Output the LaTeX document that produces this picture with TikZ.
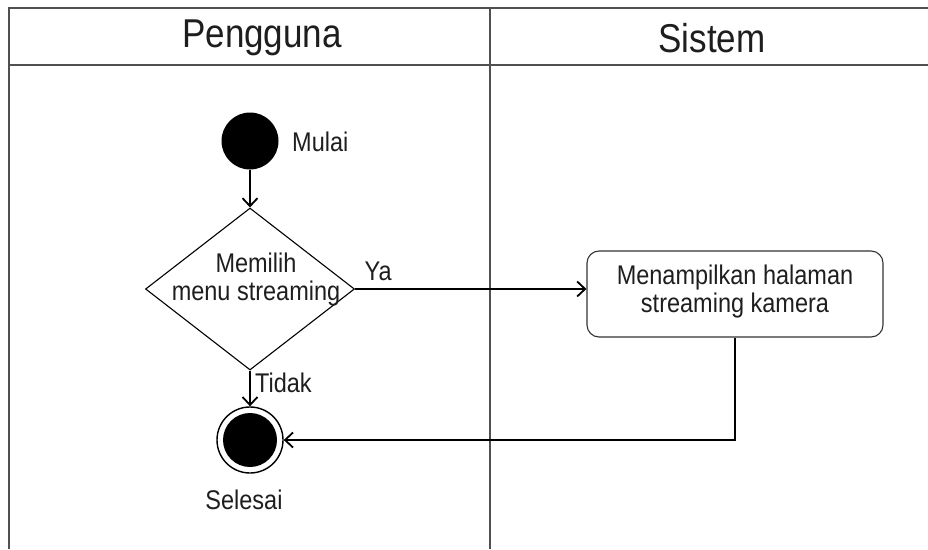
\documentclass[tikz,border=0pt]{standalone}
\usepackage{fontspec}
\setmainfont{Liberation Sans}
\usetikzlibrary{shapes.geometric,arrows.meta}
\definecolor{ink}{HTML}{1E1E1E}
\definecolor{rule}{HTML}{505050}
% narrow, tall lettering
\newcommand\tall[1]{\scalebox{1}[1.15]{#1}}
\newcommand\twolines[2]{\tall{\begin{tabular}{@{}c@{}}#1\\[-3pt]#2\end{tabular}}}
\begin{document}
\begin{tikzpicture}[x=1pt,y=-1pt,
  lane/.style={draw=rule,line width=2pt},
  head/.style={font=\fontsize{35}{38}\selectfont,text=ink,inner sep=0},
  lbl/.style={font=\fontsize{23.5}{27}\selectfont,text=ink,align=center,inner sep=0},
  flow/.style={draw=black,line width=2.2pt,-{Straight Barb[length=8pt,width=15pt,line width=1.8pt]}},
  startdot/.style={circle,fill=black,minimum size=57pt,inner sep=0},
  enddot/.style={circle,draw=black,line width=1.4pt,minimum size=66pt,inner sep=0,
    path picture={\fill[black] (path picture bounding box.center) circle[radius=27pt];}},
  decide/.style={diamond,draw=black,line width=1.1pt,minimum width=209pt,minimum height=162pt,
    inner sep=0,shape aspect=1.29},
  act/.style={rectangle,rounded corners=12pt,draw=black!80,line width=1.1pt,
    minimum width=296pt,minimum height=86pt}
]
\useasboundingbox (0,0) rectangle (928,549);

% swimlane frame
\draw[lane] (9,549) -- (9,8) -- (928,8);
\draw[lane] (9,65) -- (928,65);
\draw[lane] (490,8) -- (490,549);
\node[head] (hUser) at (262,38) {\tall{Pengguna}};
\node[head] (hSys) at (712,38) {\tall{Sistem}};

% nodes
\node[startdot] (start) at (250,141) {};
\node[lbl,anchor=west] (startLbl) at (292,142) {\tall{Mulai}};
\node[decide] (choice) at (250,289) {};
\node[lbl] (choiceTxt) at (256,280) {\twolines{Memilih}{menu streaming}};
\node[act] (show) at (735,294) {};
\node[lbl] (showTxt) at (735,292) {\twolines{Menampilkan halaman}{streaming kamera}};
\node[enddot] (stop) at (250,440) {};
\node[lbl] (stopLbl) at (244,500) {\tall{Selesai}};

% connectors
\draw[flow] (start) -- (choice.north);
\draw[flow] (choice.east) -- node[lbl,above,pos=0.1,yshift=7pt] {\tall{Ya}} (choice.east -| show.west);
\draw[flow] (choice.south) -- node[lbl,right,pos=0.35,xshift=4pt] {\tall{Tidak}} (stop.north);
\coordinate (bend) at (show.south |- stop);
\draw[flow] (show.south) -- (bend) -- (stop.east);
\end{tikzpicture}
\end{document}
